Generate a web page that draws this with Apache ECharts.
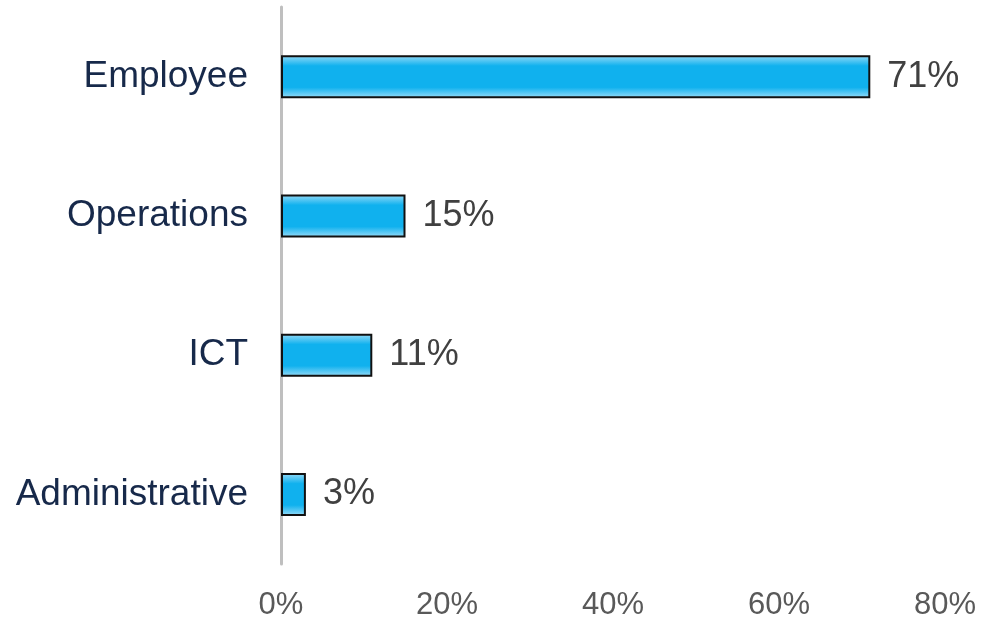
<!DOCTYPE html>
<html>
<head>
<meta charset="utf-8">
<script src="https://cdn.jsdelivr.net/npm/echarts@6/dist/echarts.min.js"></script>
<style>
  html, body { margin: 0; padding: 0; background: #fff; }
  #chart { width: 986px; height: 621px; }
</style>
</head>
<body>
<div id="chart"></div>
<script>
// data
const categories = ["Employee", "Operations", "ICT", "Administrative"];
const shares = [71, 15, 11, 3];
const xTicks = [0, 20, 40, 60, 80];

const chart = echarts.init(document.getElementById("chart"));

const barFill = new echarts.graphic.LinearGradient(0, 0, 0, 1, [
  { offset: 0, color: "#9adcf8" },
  { offset: 0.25, color: "#10b1ee" },
  { offset: 0.75, color: "#10b1ee" },
  { offset: 1, color: "#9adcf8" },
]);

const option = {
  backgroundColor: "#fff",
  animation: false,
  grid: { left: 281, right: 41, top: 7, bottom: 56 },
  xAxis: {
    type: "value",
    min: xTicks[0],
    max: xTicks[xTicks.length - 1],
    interval: 20,
    axisLine: { show: false },
    axisTick: { show: false },
    splitLine: { show: false },
    axisLabel: {
      formatter: "{value}%",
      color: "#595959",
      fontFamily: "Liberation Sans, Arial, sans-serif",
      fontSize: 31,
      margin: 26,
    },
  },
  yAxis: {
    type: "category",
    data: categories,
    inverse: true,
    axisLine: { show: true, lineStyle: { color: "#bfbfbf", width: 3 } },
    axisTick: { show: false },
    axisLabel: {
      color: "#17294a",
      fontFamily: "Liberation Sans, Arial, sans-serif",
      fontSize: 37,
      margin: 33,
    },
  },
  series: [
    {
      type: "bar",
      data: shares,
      barWidth: 43,
      itemStyle: { color: barFill, borderColor: "#111", borderWidth: 2 },
      label: {
        show: true,
        position: "right",
        distance: 17,
        formatter: "{c}%",
        color: "#404040",
        fontFamily: "Liberation Sans, Arial, sans-serif",
        fontSize: 36,
      },
    },
  ],
};

chart.setOption(option);
</script>
</body>
</html>
